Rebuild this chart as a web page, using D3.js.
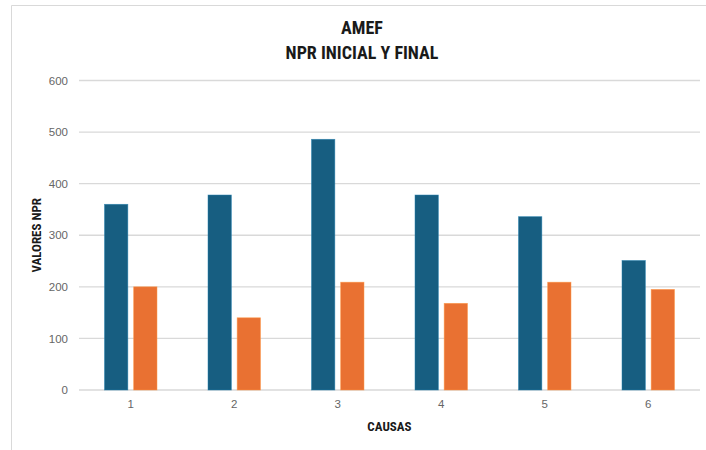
<!DOCTYPE html>
<html><head><meta charset="utf-8">
<script src="https://cdn.jsdelivr.net/npm/d3@7"></script>
<style>body{margin:0;background:#fff}svg{display:block}</style>
</head><body>
<script>
const categories = ["1","2","3","4","5","6"];
const seriesNames = ["NPR INICIAL","NPR FINAL"];
const inicial = [360, 378, 486, 378, 336, 251];
const final = [200, 140, 209, 168, 209, 195];
const yTicks = [0,100,200,300,400,500,600];
const colors = ["#175e81","#e97132"];

const W = 706, H = 450;
const svg = d3.select("body").append("svg").attr("width", W).attr("height", H);
const font = "'Liberation Sans Narrow','Roboto Condensed','Arial Narrow',sans-serif";

// frame
svg.append("path").attr("d", `M11.5,${H} V5.5 H${W}`).attr("fill","none").attr("stroke","#d9d9d9").attr("stroke-width",1);

const m = {left:79, right:700, top:80.5, bottom:390};
const y = d3.scaleLinear().domain([0,600]).range([m.bottom, m.top]);
const x0 = d3.scaleBand().domain(categories).range([m.left, m.right]).padding(0);
const groupW = x0.step()*0.507;
const x1 = d3.scaleBand().domain(seriesNames).range([0, groupW]).paddingInner(0.2);

// gridlines
svg.append("g").selectAll("line").data(yTicks).join("line")
  .attr("x1", m.left).attr("x2", m.right)
  .attr("y1", d=>y(d)).attr("y2", d=>y(d))
  .attr("stroke","#d9d9d9").attr("stroke-width",1.3);

// y axis labels
const yAxis = d3.axisLeft(y).tickValues(yTicks).tickSize(0).tickPadding(0);
const gy = svg.append("g").attr("transform",`translate(${m.left-11},0)`).call(yAxis);
gy.select(".domain").remove();
gy.selectAll("text").attr("fill","#666666").attr("font-size","11.5px").attr("font-family","'Liberation Sans',Arial,sans-serif");

// x axis labels
const xAxis = d3.axisBottom(x0).tickSize(0).tickPadding(0);
const gx = svg.append("g").attr("transform",`translate(0,${m.bottom+10})`).call(xAxis);
gx.select(".domain").remove();
gx.selectAll("text").attr("fill","#666666").attr("font-size","11.5px").attr("font-family","'Liberation Sans',Arial,sans-serif");

// bars
const data = categories.map((c,i)=>({cat:c, vals:[inicial[i], final[i]]}));
const groups = svg.append("g").selectAll("g").data(data).join("g")
  .attr("transform", d=>`translate(${x0(d.cat)+(x0.step()-groupW)/2},0)`);
groups.selectAll("rect").data(d=>d.vals.map((v,j)=>({name:seriesNames[j], v, j}))).join("rect")
  .attr("x", d=>x1(d.name)).attr("width", x1.bandwidth())
  .attr("y", d=>y(d.v)).attr("height", d=>y(0)-y(d.v))
  .attr("fill", d=>colors[d.j])
  .attr("stroke", d=>d3.color(colors[d.j]).brighter(0.8)).attr("stroke-width",0.7).attr("stroke-opacity",0.7);

// titles
svg.append("text").attr("x",362).attr("y",34).attr("text-anchor","middle")
  .attr("font-family",font).attr("font-weight","bold").attr("font-size","18px").attr("fill","#1a1a1a").text("AMEF");
svg.append("text").attr("x",362).attr("y",59).attr("text-anchor","middle")
  .attr("font-family",font).attr("font-weight","bold").attr("font-size","18px").attr("fill","#1a1a1a").text("NPR INICIAL Y FINAL");
svg.append("text").attr("x",(m.left+m.right)/2).attr("y",431).attr("text-anchor","middle")
  .attr("font-family",font).attr("font-weight","bold").attr("font-size","13px").attr("fill","#1a1a1a").text("CAUSAS");
svg.append("text").attr("transform",`translate(41,${(m.top+m.bottom)/2}) rotate(-90)`).attr("text-anchor","middle")
  .attr("font-family",font).attr("font-weight","bold").attr("font-size","13px").attr("fill","#1a1a1a").text("VALORES NPR");
</script>
</body></html>
